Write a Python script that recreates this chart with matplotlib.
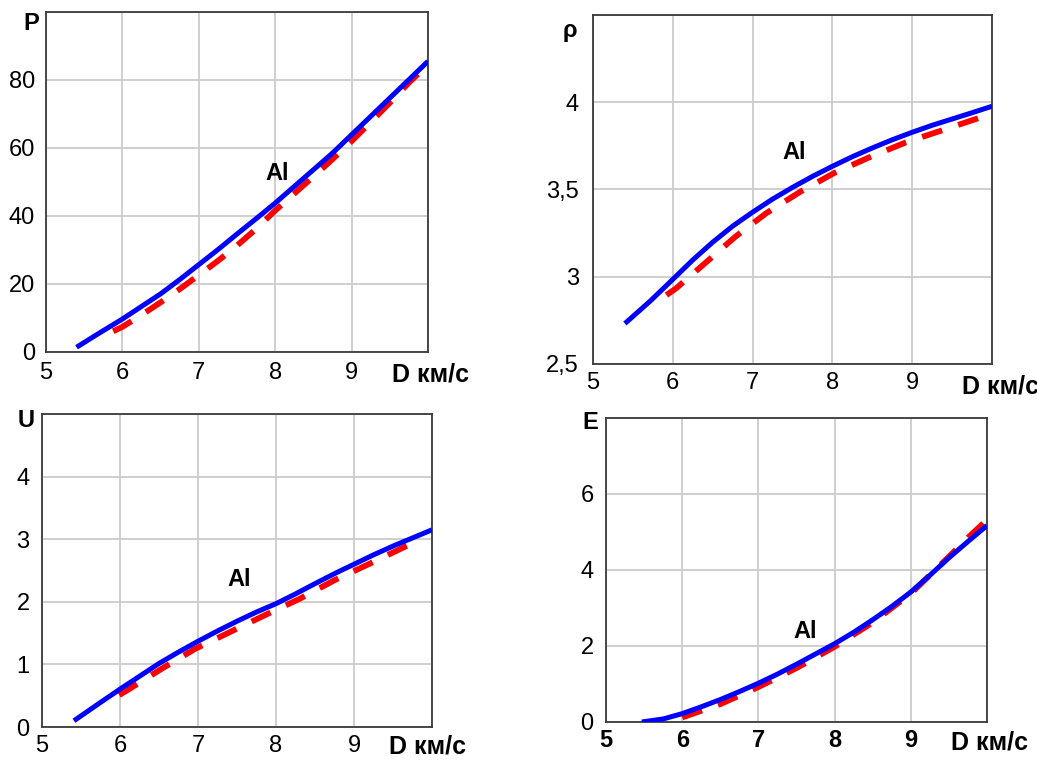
import numpy as np
import matplotlib.pyplot as plt

plt.rcParams['font.family'] = ['Liberation Sans', 'DejaVu Sans']

# P(D)
p_d_blue = [5.40, 5.70, 6.0, 6.25, 6.5, 6.75, 7.0, 7.25, 7.5, 7.75, 8.0, 8.25, 8.5, 8.75, 9.0, 9.25, 9.5, 9.75, 10.0]
p_blue = [1.4, 5.6, 9.7, 13.4, 17.1, 21.3, 25.7, 30.1, 34.7, 39.2, 43.8, 48.7, 53.6, 58.5, 63.9, 69.3, 74.7, 80.1, 85.5]
p_d_red = [5.88, 6.0, 6.25, 6.5, 6.75, 7.0, 7.25, 7.5, 7.75, 8.0, 8.25, 8.5, 8.75, 9.0, 9.25, 9.5, 9.75, 10.0]
p_red = [6.1, 7.4, 10.9, 14.6, 18.5, 22.6, 26.8, 31.3, 36.2, 41.6, 46.6, 51.6, 56.7, 62.0, 67.6, 73.3, 79.2, 84.6]

# rho(D)
r_d_blue = [5.40, 5.72, 6.0, 6.25, 6.5, 6.75, 7.0, 7.25, 7.5, 7.75, 8.0, 8.25, 8.5, 8.75, 9.0, 9.25, 9.5, 9.75, 10.0]
r_blue = [2.732, 2.862, 2.985, 3.096, 3.198, 3.290, 3.370, 3.445, 3.512, 3.575, 3.633, 3.688, 3.738, 3.785,
          3.828, 3.868, 3.904, 3.940, 3.977]
r_d_red = [5.92, 6.04, 6.41, 6.78, 7.17, 7.59, 8.02, 8.46, 8.92, 9.40, 9.85, 10.0]
r_red = [2.895, 2.933, 3.080, 3.228, 3.364, 3.485, 3.594, 3.684, 3.770, 3.843, 3.912, 3.940]

# U(D)
u_d_blue = [5.41, 5.70, 6.0, 6.25, 6.5, 6.75, 7.0, 7.25, 7.5, 7.75, 8.0, 8.25, 8.5, 8.75, 9.0, 9.25, 9.5, 9.75, 10.0]
u_blue = [0.10, 0.35, 0.605, 0.81, 1.015, 1.197, 1.37, 1.534, 1.69, 1.837, 1.97, 2.126, 2.29, 2.45, 2.60, 2.75,
          2.89, 3.02, 3.15]
u_d_red = [5.99, 6.11, 6.54, 6.96, 7.41, 7.86, 8.30, 8.75, 9.22, 9.67, 9.85]
u_red = [0.51, 0.60, 0.935, 1.246, 1.517, 1.788, 2.046, 2.345, 2.62, 2.89, 2.99]

# E(D)
e_d_blue = [5.47, 5.75, 6.0, 6.25, 6.5, 6.75, 7.0, 7.25, 7.5, 7.75, 8.0, 8.25, 8.5, 8.75, 9.0, 9.25, 9.5, 9.75, 10.0]
e_blue = [0.0, 0.08, 0.22, 0.40, 0.59, 0.80, 1.02, 1.26, 1.52, 1.79, 2.06, 2.36, 2.69, 3.04, 3.42, 3.86, 4.32,
          4.75, 5.17]
e_d_red = [6.0, 6.5, 7.0, 7.5, 8.0, 8.5, 9.0, 9.5, 9.75, 10.0]
e_red = [0.12, 0.47, 0.92, 1.42, 1.98, 2.62, 3.38, 4.35, 4.85, 5.32]

x_ticks = [5, 6, 7, 8, 9, 10]
x_labels = ['5', '6', '7', '8', '9', '']

W, H = 1037, 760
FS = 17
fig = plt.figure(figsize=(W / 100, H / 100), dpi=100)


def px_axes(l, t, r, b):
    return fig.add_axes([l / W, 1 - b / H, (r - l) / W, (b - t) / H])


panels = [
    dict(box=(46, 12, 428, 352), xb=p_d_blue, yb=p_blue, xr=p_d_red, yr=p_red,
         ylim=(0, 100), yt=[0, 20, 40, 60, 80, 100], yl=['0', '20', '40', '60', '80', ''],
         name='P', name_xy=(31, 30), d_xy=(392, 382), al=(8.03, 52.6),
         bold_x=False, xpad=7.5, ypad=8),
    dict(box=(593, 15, 992, 364), xb=r_d_blue, yb=r_blue, xr=r_d_red, yr=r_red,
         ylim=(2.5, 4.5), yt=[2.5, 3, 3.5, 4, 4.5], yl=['2,5', '3', '3,5', '4', ''],
         name='ρ', name_xy=(570, 37), d_xy=(962, 393), al=(7.52, 3.71),
         bold_x=False, xpad=6, ypad=10),
    dict(box=(42, 414, 432, 727), xb=u_d_blue, yb=u_blue, xr=u_d_red, yr=u_red,
         ylim=(0, 5), yt=[0, 1, 2, 3, 4, 5], yl=['0', '1', '2', '3', '4', ''],
         name='U', name_xy=(26, 427), d_xy=(389, 754), al=(7.53, 2.35),
         bold_x=False, xpad=6, ypad=9),
    dict(box=(606, 418, 987, 722), xb=e_d_blue, yb=e_blue, xr=e_d_red, yr=e_red,
         ylim=(0, 8), yt=[0, 2, 4, 6, 8], yl=['0', '2', '4', '6', ''],
         name='E', name_xy=(590, 429), d_xy=(951, 750), al=(7.62, 2.37),
         bold_x=True, xpad=5, ypad=9),
]

for p in panels:
    ax = px_axes(*p['box'])
    ax.plot(p['xr'], p['yr'], color='#ff0000', lw=4.2, dashes=(3.6, 2.9), zorder=3)
    ax.plot(p['xb'], p['yb'], color='#0000ff', lw=3.6, zorder=4,
            solid_joinstyle='round', solid_capstyle='butt')
    ax.set_xlim(5, 10)
    ax.set_ylim(*p['ylim'])
    ax.set_xticks(x_ticks)
    ax.set_xticklabels(x_labels, fontsize=FS,
                       fontweight='bold' if p['bold_x'] else 'normal')
    ax.set_yticks(p['yt'])
    ax.set_yticklabels(p['yl'], fontsize=FS)
    ax.tick_params(axis='x', length=0, pad=p['xpad'])
    ax.tick_params(axis='y', length=0, pad=p['ypad'])
    ax.grid(True, color='#cccccc', lw=1.3)
    ax.set_axisbelow(True)
    for s in ax.spines.values():
        s.set_color('#3a3a3a')
        s.set_linewidth(1.3)
    ax.text(p['al'][0], p['al'][1], 'Al', fontsize=FS, fontweight='bold',
            ha='center', va='center')
    fig.text(p['name_xy'][0] / W, 1 - p['name_xy'][1] / H, p['name'],
             fontsize=FS, fontweight='bold', ha='center', va='baseline')
    fig.text(p['d_xy'][0] / W, 1 - p['d_xy'][1] / H, 'D км/с',
             fontsize=18, fontweight='bold', ha='left', va='baseline')

fig.savefig('out.png', dpi=100)
